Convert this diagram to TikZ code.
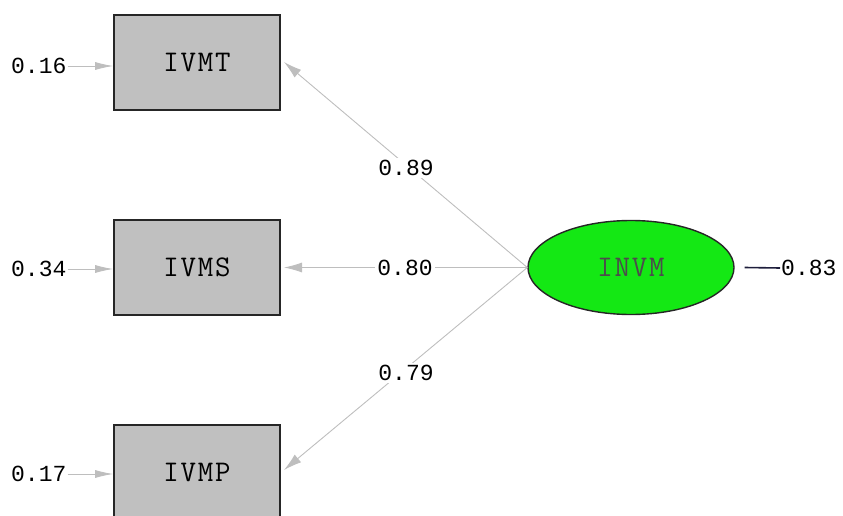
\documentclass[tikz,border=0pt]{standalone}
\usepackage{fontspec}
\newfontfamily\numfont{Liberation Mono}
\newfontfamily\boxfont[LetterSpace=6]{Latin Modern Mono}
\usetikzlibrary{shapes.geometric,arrows.meta}
\definecolor{boxgray}{RGB}{192,192,192}
\definecolor{lvgreen}{RGB}{20,232,20}
\definecolor{pathgray}{RGB}{190,190,190}
\definecolor{navyline}{RGB}{30,30,60}
\tikzset{
  obsbox/.style={draw=black!85, line width=1.6pt, fill=boxgray, minimum width=166pt, minimum height=95pt, inner sep=0pt, font=\boxfont\fontsize{30}{30}\selectfont},
  latent/.style={ellipse, draw=black!85, line width=1.4pt, fill=lvgreen, minimum width=206pt, minimum height=94pt, inner sep=0pt, font=\boxfont\fontsize{30}{30}\selectfont, text=black!70},
  numlab/.style={font=\numfont\fontsize{23}{23}\selectfont, inner sep=1pt},
  pathlab/.style={numlab, fill=white, inner sep=2pt},
  patharrow/.style={draw=pathgray, line width=0.9pt, -{Latex[length=18pt,width=10pt,fill=pathgray]}},
  errarrow/.style={draw=pathgray, line width=0.9pt, -{Latex[length=18pt,width=8pt,fill=pathgray]}}
}
\begin{document}
\begin{tikzpicture}[x=1pt,y=-1pt]
\useasboundingbox (0,0) rectangle (843,516);
\node[obsbox] (ivmt) at (197,62.5) {IVMT};
\node[obsbox] (ivms) at (197,267.5) {IVMS};
\node[obsbox] (ivmp) at (197,472.5) {IVMP};
\node[latent] (invm) at (631,267.5) {INVM};
% error variances
\node[numlab, anchor=west] (e1) at (10,66) {0.16};
\node[numlab, anchor=west] (e2) at (10,269) {0.34};
\node[numlab, anchor=west] (e3) at (10,474) {0.17};
\draw[errarrow] (e1.east) -- (ivmt.west |- e1.east);
\draw[errarrow] (e2.east) -- (ivms.west |- e2.east);
\draw[errarrow] (e3.east) -- (ivmp.west |- e3.east);
% loadings
\coordinate (c1) at (284,62);
\coordinate (c2) at (284,267.5);
\coordinate (c3) at (284,470);
\draw[patharrow] (invm.west) -- (c1);
\draw[patharrow] (invm.west) -- (c2);
\draw[patharrow] (invm.west) -- (c3);
\node[pathlab] (l1) at (406,168) {0.89};
\node[pathlab] (l2) at (405,268) {0.80};
\node[pathlab] (l3) at (406,373) {0.79};
% latent error
\node[numlab, anchor=west] (ev) at (780,268) {0.83};
\draw[navyline, line width=1.6pt] (invm.east) ++(10,0) -- (ev.west);
\end{tikzpicture}
\end{document}
